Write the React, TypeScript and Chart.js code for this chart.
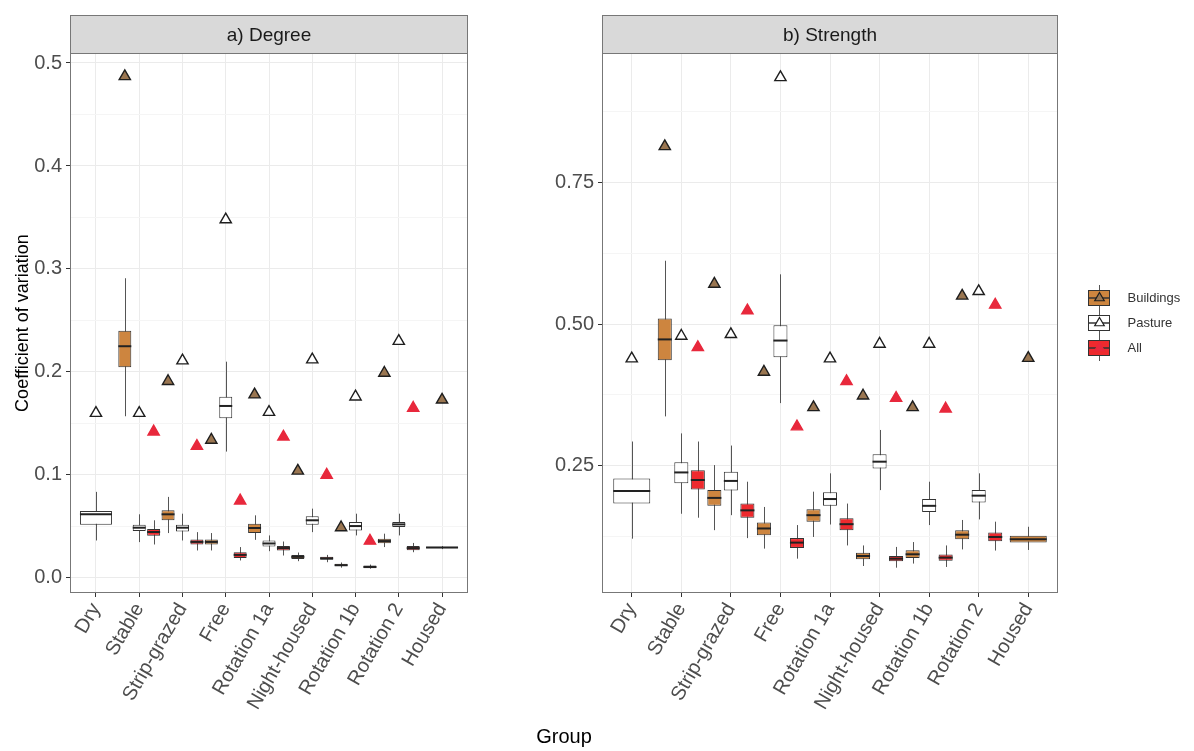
import React, { useEffect, useRef } from 'react';
import { Chart, registerables } from 'chart.js';

Chart.register(...registerables);

// ---------- data ----------
const categories = ['Dry', 'Stable', 'Strip-grazed', 'Free', 'Rotation 1a', 'Night-housed', 'Rotation 1b', 'Rotation 2', 'Housed'];
const seriesNames = ['Buildings', 'Pasture', 'All'];

// five-number summaries: [lower whisker, Q1, median, Q3, upper whisker]
const degreeBuildings = [
  null,
  [0.157, 0.2045, 0.225, 0.24, 0.291],
  [0.0436, 0.056, 0.0618, 0.0657, 0.0787],
  [0.0267, 0.0325, 0.035, 0.0374, 0.0436],
  [0.037, 0.0436, 0.0485, 0.0527, 0.0608],
  [0.0163, 0.0185, 0.0205, 0.0224, 0.0247],
  [0.01, 0.0114, 0.0124, 0.0137, 0.015],
  [0.03, 0.0338, 0.0358, 0.038, 0.043],
  [0.028, 0.0288, 0.0295, 0.0302, 0.031],
];
const degreePasture = [
  [0.0364, 0.0517, 0.0618, 0.065, 0.0836],
  [0.0348, 0.0455, 0.0488, 0.0517, 0.0618],
  [0.0364, 0.0452, 0.0488, 0.0517, 0.0624],
  [0.1227, 0.155, 0.167, 0.176, 0.21],
  [0.026, 0.0306, 0.0335, 0.0364, 0.0413],
  [0.0445, 0.0517, 0.056, 0.06, 0.0673],
  [0.0413, 0.046, 0.0504, 0.0543, 0.0624],
  [0.0413, 0.0494, 0.052, 0.0543, 0.0624],
  null,
];
const degreeAll = [
  null,
  [0.0325, 0.041, 0.0446, 0.0475, 0.056],
  [0.0267, 0.0325, 0.035, 0.0374, 0.0445],
  [0.017, 0.0195, 0.0224, 0.025, 0.03],
  [0.0218, 0.0267, 0.029, 0.031, 0.0354],
  [0.0153, 0.0176, 0.019, 0.0205, 0.0224],
  [0.009, 0.0094, 0.0107, 0.012, 0.013],
  [0.025, 0.027, 0.029, 0.031, 0.034],
  null,
];
// observed network values (triangles)
const degreeBuildingsObs = [null, 0.487, 0.191, 0.134, 0.178, 0.104, 0.049, 0.199, 0.173];
const degreePastureObs = [0.16, 0.16, 0.211, 0.348, 0.161, 0.212, 0.176, 0.23, null];
const degreeAllObs = [null, 0.142, 0.128, 0.075, 0.137, 0.1, 0.036, 0.165, null];

const strengthBuildings = [
  null,
  [0.337, 0.436, 0.473, 0.51, 0.612],
  [0.136, 0.179, 0.193, 0.207, 0.251],
  [0.1034, 0.127, 0.139, 0.1495, 0.177],
  [0.124, 0.151, 0.1625, 0.173, 0.204],
  [0.0727, 0.0845, 0.0904, 0.0963, 0.109],
  [0.077, 0.087, 0.0934, 0.1005, 0.115],
  [0.102, 0.12, 0.128, 0.136, 0.154],
  [0.101, 0.114, 0.12, 0.126, 0.142],
];
const strengthPasture = [
  [0.121, 0.183, 0.205, 0.2275, 0.2926],
  [0.165, 0.219, 0.238, 0.256, 0.307],
  [0.1625, 0.206, 0.223, 0.239, 0.2855],
  [0.3605, 0.4415, 0.471, 0.498, 0.588],
  [0.146, 0.179, 0.191, 0.203, 0.2364],
  [0.2068, 0.245, 0.257, 0.27, 0.313],
  [0.145, 0.168, 0.179, 0.191, 0.2216],
  [0.155, 0.185, 0.197, 0.2069, 0.2364],
  null,
];
const strengthAll = [
  null,
  [0.158, 0.208, 0.2246, 0.242, 0.2926],
  [0.122, 0.158, 0.171, 0.183, 0.2216],
  [0.0857, 0.1046, 0.114, 0.122, 0.145],
  [0.109, 0.136, 0.1466, 0.157, 0.183],
  [0.0697, 0.081, 0.0857, 0.0904, 0.1064],
  [0.071, 0.082, 0.0875, 0.0928, 0.109],
  [0.1, 0.1165, 0.124, 0.132, 0.151],
  null,
];
const strengthBuildingsObs = [null, 0.814, 0.571, 0.4155, 0.353, 0.3735, 0.353, 0.55, 0.44];
const strengthPastureObs = [0.439, 0.479, 0.482, 0.936, 0.439, 0.465, 0.465, 0.558, null];
const strengthAllObs = [null, 0.459, 0.524, 0.319, 0.399, 0.3694, 0.3505, 0.534, null];

const degreeTicks = [0, 0.1, 0.2, 0.3, 0.4, 0.5];
const degreeTickLabels = ['0.0', '0.1', '0.2', '0.3', '0.4', '0.5'];
const degreeMinorTicks = [0.05, 0.15, 0.25, 0.35, 0.45];
const strengthTicks = [0.25, 0.5, 0.75];
const strengthTickLabels = ['0.25', '0.50', '0.75'];
const strengthMinorTicks = [0.125, 0.375, 0.625, 0.875];

// ---------- styles ----------
const FONT = "'Liberation Sans', Arial, sans-serif";
const BOX_FILL = ['#CD853F', '#FFFFFF', '#EE2A2E'];
const TRI_FILL = ['#9A7651', '#FFFFFF', '#E8283C'];
const TRI_STROKE = ['#1E1E1E', '#1E1E1E', '#E8283C'];
const LINE = '#333333';
const BORDER = '#777777';
const TICK_SIZE = 20;

function drawTri(ctx: CanvasRenderingContext2D, x: number, y: number, r: number, fill: string, stroke: string, lw: number) {
  ctx.beginPath();
  ctx.moveTo(x, y - r);
  ctx.lineTo(x + r * 0.866, y + r * 0.5);
  ctx.lineTo(x - r * 0.866, y + r * 0.5);
  ctx.closePath();
  ctx.fillStyle = fill;
  ctx.fill();
  ctx.lineWidth = lw;
  ctx.strokeStyle = stroke;
  ctx.stroke();
}

const facetPlugin = {
  id: 'facet',
  beforeDatasetsDraw(chart: any) {
    const ctx = chart.ctx;
    const ys = chart.scales.y;
    ctx.save();
    chart.data.datasets.forEach((ds: any, di: number) => {
      const meta = chart.getDatasetMeta(di);
      meta.data.forEach((el: any, i: number) => {
        const s = ds.stats[i];
        if (!s) return;
        const x = Math.round(el.x) + 0.5;
        ctx.strokeStyle = '#555';
        ctx.lineWidth = 1;
        ctx.beginPath();
        ctx.moveTo(x, ys.getPixelForValue(s[0]));
        ctx.lineTo(x, ys.getPixelForValue(s[4]));
        ctx.stroke();
      });
    });
    ctx.restore();
  },
  afterDatasetsDraw(chart: any) {
    const ctx = chart.ctx;
    const ys = chart.scales.y;
    ctx.save();
    chart.data.datasets.forEach((ds: any, di: number) => {
      const meta = chart.getDatasetMeta(di);
      meta.data.forEach((el: any, i: number) => {
        const s = ds.stats[i];
        if (!s) return;
        const ym = ys.getPixelForValue(s[2]);
        ctx.strokeStyle = '#222';
        ctx.lineWidth = 2;
        ctx.beginPath();
        ctx.moveTo(el.x - el.width / 2, ym);
        ctx.lineTo(el.x + el.width / 2, ym);
        ctx.stroke();
      });
    });
    chart.data.datasets.forEach((ds: any, di: number) => {
      const meta = chart.getDatasetMeta(di);
      meta.data.forEach((el: any, i: number) => {
        const v = ds.obs[i];
        if (v === null || v === undefined) return;
        drawTri(ctx, el.x, ys.getPixelForValue(v), 6.5, TRI_FILL[di], TRI_STROKE[di], 1.4);
      });
    });
    ctx.restore();
  },
  afterDraw(chart: any, _args: any, opts: any) {
    const ctx = chart.ctx;
    const ca = chart.chartArea;
    ctx.save();
    const l = Math.round(ca.left) + 0.5;
    const r = Math.round(ca.right) - 0.5;
    const t = Math.round(ca.top) + 0.5;
    const b = Math.round(ca.bottom) - 0.5;
    ctx.strokeStyle = BORDER;
    ctx.lineWidth = 1;
    ctx.strokeRect(l, t, r - l, b - t);
    const st = opts.stripTop + 0.5;
    ctx.fillStyle = '#D9D9D9';
    ctx.fillRect(l, st, r - l, t - st);
    ctx.strokeRect(l, st, r - l, t - st);
    ctx.fillStyle = '#1A1A1A';
    ctx.font = `19px ${FONT}`;
    ctx.textAlign = 'center';
    ctx.textBaseline = 'middle';
    ctx.fillText(opts.label, (l + r) / 2, (st + t) / 2 + 1);
    if (opts.xTitle) {
      ctx.fillStyle = '#000';
      ctx.font = `20px ${FONT}`;
      ctx.fillText(opts.xTitle, (ca.right + opts.xTitleLeft) / 2, opts.xTitleY);
    }
    ctx.restore();
  },
};

function makeDatasets(stats: any[], obs: any[], barPct: number, maxW: number) {
  return seriesNames.map((name, i) => ({
    label: name,
    data: stats[i].map((s: any) => (s ? [s[1], s[3]] : null)),
    stats: stats[i],
    obs: obs[i],
    backgroundColor: BOX_FILL[i],
    borderColor: LINE,
    borderWidth: 1,
    borderSkipped: false,
    skipNull: true,
    categoryPercentage: 1.0,
    barPercentage: barPct,
    maxBarThickness: maxW,
  }));
}

function yAxis(min: number, max: number, majors: number[], labels: string[], minors: number[], width: number, title: string | null) {
  const isMajor = (v: number) => majors.some((m) => Math.abs(m - v) < 1e-9);
  return {
    type: 'linear',
    min,
    max,
    afterBuildTicks: (s: any) => {
      s.ticks = [...majors, ...minors].sort((a, b) => a - b).map((v) => ({ value: v }));
    },
    afterFit: (s: any) => {
      s.width = width;
    },
    ticks: {
      autoSkip: false,
      color: '#4D4D4D',
      font: { family: FONT, size: TICK_SIZE },
      padding: 4,
      callback: (v: number) => {
        const k = majors.findIndex((m) => Math.abs(m - v) < 1e-9);
        return k >= 0 ? labels[k] : '';
      },
    },
    grid: {
      color: (c: any) => (isMajor(c.tick.value) ? '#EBEBEB' : '#F5F5F5'),
      tickColor: (c: any) => (isMajor(c.tick.value) ? '#333' : 'rgba(0,0,0,0)'),
      tickLength: 4,
      lineWidth: 1,
    },
    border: { display: false },
    title: title
      ? { display: true, text: title, color: '#000', font: { family: FONT, size: 18 }, padding: { top: 12, bottom: 0 } }
      : { display: false },
  };
}

function xAxis(height: number) {
  return {
    type: 'category',
    offset: true,
    afterBuildTicks: (s: any) => {
      s._startValue = -0.6;
      s._valueRange = categories.length - 1 + 1.2;
    },
    afterFit: (s: any) => {
      s.height = height;
    },
    ticks: {
      autoSkip: false,
      color: '#4D4D4D',
      font: { family: FONT, size: TICK_SIZE },
      minRotation: 60,
      maxRotation: 60,
      padding: 2,
    },
    grid: { offset: false, color: '#EBEBEB', tickColor: '#333', tickLength: 4 },
    border: { display: false },
  };
}

function makeIcon(i: number) {
  const c = document.createElement('canvas');
  c.width = 51;
  c.height = 28;
  const g = c.getContext('2d')!;
  const cx = 29;
  g.strokeStyle = '#555';
  g.lineWidth = 1;
  g.beginPath();
  g.moveTo(cx + 0.5, 1);
  g.lineTo(cx + 0.5, 27);
  g.stroke();
  g.fillStyle = BOX_FILL[i];
  g.fillRect(cx - 11, 6, 22, 16);
  g.strokeStyle = LINE;
  g.strokeRect(cx - 10.5, 6.5, 21, 15);
  g.lineWidth = 1.5;
  g.beginPath();
  g.moveTo(cx - 10, 14);
  g.lineTo(cx + 10, 14);
  g.stroke();
  drawTri(g, cx + 0.5, 14, 5.5, TRI_FILL[i], TRI_STROKE[i], 1.2);
  return c;
}

const A_W = 480;
const B_LEFT = 480;
const B_W = 714;
const H = 751;
const B_TARGET_RIGHT = 1058 - B_LEFT;

export default function App() {
  const refA = useRef<HTMLCanvasElement>(null);
  const refB = useRef<HTMLCanvasElement>(null);

  useEffect(() => {
    const icons = [0, 1, 2].map(makeIcon);
    const chartA = new Chart(refA.current as HTMLCanvasElement, {
      type: 'bar',
      data: {
        labels: categories,
        datasets: makeDatasets(
          [degreeBuildings, degreePasture, degreeAll],
          [degreeBuildingsObs, degreePastureObs, degreeAllObs],
          0.9,
          32
        ) as any,
      },
      options: {
        responsive: false,
        animation: false,
        devicePixelRatio: 1,
        events: [],
        layout: { padding: { top: 53, right: A_W - 468, bottom: 0, left: 0 } },
        scales: {
          x: xAxis(H - 593) as any,
          y: yAxis(-0.0146, 0.5097, degreeTicks, degreeTickLabels, degreeMinorTicks, 70, 'Coefficient of variation') as any,
        },
        plugins: {
          legend: { display: false },
          tooltip: { enabled: false },
          facet: { label: 'a) Degree', stripTop: 15 },
        } as any,
      },
      plugins: [facetPlugin as any],
    });

    const padB = { top: 53, right: 10, bottom: 0, left: 60 };
    const chartB = new Chart(refB.current as HTMLCanvasElement, {
      type: 'bar',
      data: {
        labels: categories,
        datasets: makeDatasets(
          [strengthBuildings, strengthPasture, strengthAll],
          [strengthBuildingsObs, strengthPastureObs, strengthAllObs],
          0.85,
          37
        ) as any,
      },
      options: {
        responsive: false,
        animation: false,
        devicePixelRatio: 1,
        events: [],
        layout: { padding: padB },
        scales: {
          x: xAxis(H - 593) as any,
          y: yAxis(0.025, 0.979, strengthTicks, strengthTickLabels, strengthMinorTicks, 62, null) as any,
        },
        plugins: {
          legend: {
            display: true,
            position: 'right',
            fullSize: false,
            align: 'center',
            labels: {
              usePointStyle: true,
              pointStyleWidth: 51,
              boxHeight: 13,
              padding: 12,
              color: '#333',
              font: { family: FONT, size: 13 },
              generateLabels: (ch: any) =>
                ch.data.datasets.map((ds: any, i: number) => ({
                  text: ds.label,
                  pointStyle: icons[i],
                  fillStyle: 'rgba(0,0,0,0)',
                  strokeStyle: 'rgba(0,0,0,0)',
                  lineWidth: 0,
                  hidden: false,
                  datasetIndex: i,
                  fontColor: '#333',
                })),
            },
          },
          tooltip: { enabled: false },
          facet: { label: 'b) Strength', stripTop: 15, xTitle: 'Group', xTitleLeft: 70 - B_LEFT, xTitleY: 737 },
        } as any,
      },
      plugins: [facetPlugin as any],
    });
    const d = chartB.chartArea.right - B_TARGET_RIGHT;
    if (Math.abs(d) > 0.5) {
      (chartB.options as any).layout.padding = { ...padB, right: padB.right + d };
      chartB.update();
    }
    return () => {
      chartA.destroy();
      chartB.destroy();
    };
  }, []);

  return (
    <div style={{ position: 'absolute', left: 0, top: 0, width: 1194, height: H, background: '#fff' }}>
      <canvas ref={refA} width={A_W} height={H} style={{ position: 'absolute', left: 0, top: 0 }} />
      <canvas ref={refB} width={B_W} height={H} style={{ position: 'absolute', left: B_LEFT, top: 0 }} />
    </div>
  );
}
